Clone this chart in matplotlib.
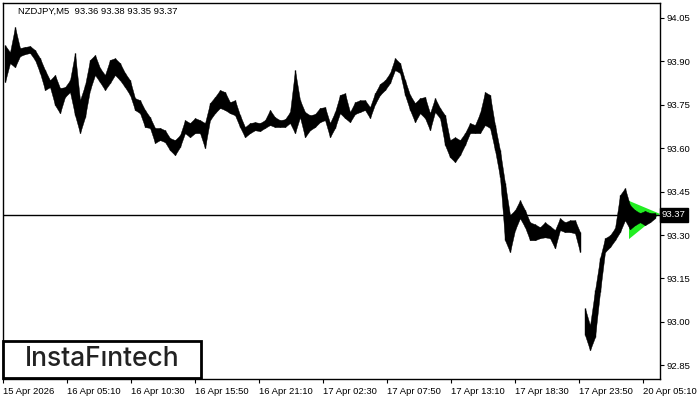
import numpy as np
import matplotlib
matplotlib.use('Agg')
import matplotlib.pyplot as plt
from matplotlib.patches import Rectangle, Polygon

# NZDJPY M5, sampled every 5 bars (high / low of each group)
highs = [
    93.956, 93.932, 94.019, 93.946, 93.950, 93.953, 93.939, 93.911, 93.870, 93.835,
    93.853, 93.808, 93.811, 93.835, 93.929, 93.766, 93.818, 93.905, 93.922, 93.877,
    93.853, 93.905, 93.911, 93.894, 93.860, 93.835, 93.773, 93.766, 93.732, 93.707,
    93.670, 93.670, 93.662, 93.635, 93.628, 93.645, 93.697, 93.687, 93.704, 93.697,
    93.687, 93.756, 93.777, 93.801, 93.794, 93.759, 93.766, 93.714, 93.673, 93.687,
    93.690, 93.687, 93.697, 93.732, 93.707, 93.697, 93.700, 93.725, 93.870, 93.766,
    93.725, 93.714, 93.718, 93.739, 93.742, 93.687, 93.725, 93.784, 93.790, 93.725,
    93.759, 93.766, 93.766, 93.742, 93.790, 93.822, 93.835, 93.860, 93.911, 93.894,
    93.835, 93.784, 93.756, 93.773, 93.777, 93.721, 93.773, 93.739, 93.714, 93.628,
    93.638, 93.628, 93.652, 93.687, 93.680, 93.721, 93.794, 93.784, 93.680, 93.593,
    93.479, 93.369, 93.386, 93.420, 93.386, 93.344, 93.337, 93.327, 93.344, 93.331,
    93.317, 93.358, 93.344, 93.351, 93.351, 93.310, 93.047, 92.988, 93.109, 93.220,
    93.289, 93.299, 93.324, 93.438, 93.462, 93.403, 93.386, 93.376, 93.383, 93.376,
    93.376,
]
lows = [
    93.828, 93.894, 93.880, 93.918, 93.925, 93.929, 93.905, 93.860, 93.801, 93.811,
    93.749, 93.721, 93.777, 93.794, 93.714, 93.652, 93.707, 93.801, 93.853, 93.828,
    93.801, 93.825, 93.853, 93.835, 93.811, 93.784, 93.732, 93.721, 93.673, 93.670,
    93.618, 93.628, 93.621, 93.593, 93.576, 93.604, 93.652, 93.638, 93.652, 93.652,
    93.600, 93.697, 93.721, 93.739, 93.732, 93.721, 93.714, 93.673, 93.638, 93.652,
    93.662, 93.659, 93.670, 93.680, 93.673, 93.673, 93.673, 93.687, 93.652, 93.707,
    93.638, 93.662, 93.673, 93.690, 93.697, 93.638, 93.670, 93.721, 93.704, 93.690,
    93.718, 93.725, 93.732, 93.704, 93.752, 93.784, 93.801, 93.825, 93.870, 93.860,
    93.784, 93.732, 93.690, 93.721, 93.704, 93.662, 93.725, 93.704, 93.611, 93.569,
    93.552, 93.576, 93.611, 93.652, 93.652, 93.652, 93.680, 93.670, 93.593, 93.500,
    93.282, 93.241, 93.317, 93.358, 93.327, 93.282, 93.282, 93.289, 93.292, 93.289,
    93.254, 93.317, 93.310, 93.310, 93.306, 93.241, 92.954, 92.902, 92.947, 93.102,
    93.241, 93.258, 93.282, 93.310, 93.351, 93.320, 93.334, 93.344, 93.334, 93.344,
    93.358,
]
week_break = 116  # first sample after the weekend gap

last_price = 93.37
title = 'NZDJPY,M5  93.36 93.38 93.35 93.37'

time_labels = ['15 Apr 2026', '16 Apr 05:10', '16 Apr 10:30', '16 Apr 15:50',
               '16 Apr 21:10', '17 Apr 02:30', '17 Apr 07:50', '17 Apr 13:10',
               '17 Apr 18:30', '17 Apr 23:50', '20 Apr 05:10']
price_ticks = [92.85, 93.00, 93.15, 93.30, 93.45, 93.60, 93.75, 93.90, 94.05]

# symmetric triangle (pennant) pattern
pennant_bar = [626, 626, 657]
pennant_price = [93.418, 93.286, 93.373]

W, H = 700, 400
fig = plt.figure(figsize=(7, 4), dpi=100)
fig.patch.set_facecolor('white')
ax = fig.add_axes([3 / W, 21 / H, 657 / W, 376 / H])

bars = np.arange(len(highs)) * 5 + 2
hi = np.array(highs)
lo = np.array(lows)

ax.add_patch(Polygon(list(zip(pennant_bar, pennant_price)), closed=True,
                     facecolor='#22ee22', edgecolor='none', zorder=1))

for seg in (slice(0, week_break), slice(week_break, None)):
    ax.fill_between(bars[seg], lo[seg], hi[seg], color='black', lw=0.3,
                    edgecolor='black', zorder=2)
    ax.vlines(bars[seg], lo[seg], hi[seg], color='black', lw=1, zorder=2)

ax.axhline(last_price, color='black', lw=1, zorder=3)

ax.set_xlim(0, 657)
ax.set_ylim(92.8024, 94.1018)

ax.set_xticks(np.arange(len(time_labels)) * 64)
ax.set_xticklabels(time_labels, ha='left')
ax.yaxis.tick_right()
ax.set_yticks(price_ticks)
ax.set_yticklabels(['%.2f' % p for p in price_ticks])
ax.tick_params(axis='both', direction='out', length=3, width=0.8,
               labelsize=6.8, pad=2, colors='black')
ax.tick_params(axis='x', pad=3)
for lbl in ax.get_xticklabels() + ax.get_yticklabels():
    lbl.set_family('Liberation Sans')
for s in ax.spines.values():
    s.set_color('black')
    s.set_linewidth(1)

# current price tag
ax.text(1.003, last_price, '%.2f' % last_price, transform=ax.get_yaxis_transform(),
        ha='left', va='center', color='white', fontsize=6.8, family='Liberation Sans',
        bbox=dict(boxstyle='square,pad=0.25', facecolor='black', edgecolor='black'))

fig.text(18 / W, 1 - 11 / H, title, ha='left', va='center', fontsize=6.8,
         family='Liberation Sans', color='black')

# logo box
fig.patches.append(Rectangle((3 / W, (H - 378) / H), 198 / W, 37 / H,
                             transform=fig.transFigure, facecolor='white',
                             edgecolor='black', lw=2, zorder=5))
fig.text(102 / W, (H - 359) / H, 'InstaF\u0131ntech', ha='center', va='center',
         fontsize=19, fontweight='medium', family=['Inter', 'DejaVu Sans'],
         color='#222222', zorder=6)

fig.savefig('out.png', dpi=100, facecolor='white')
